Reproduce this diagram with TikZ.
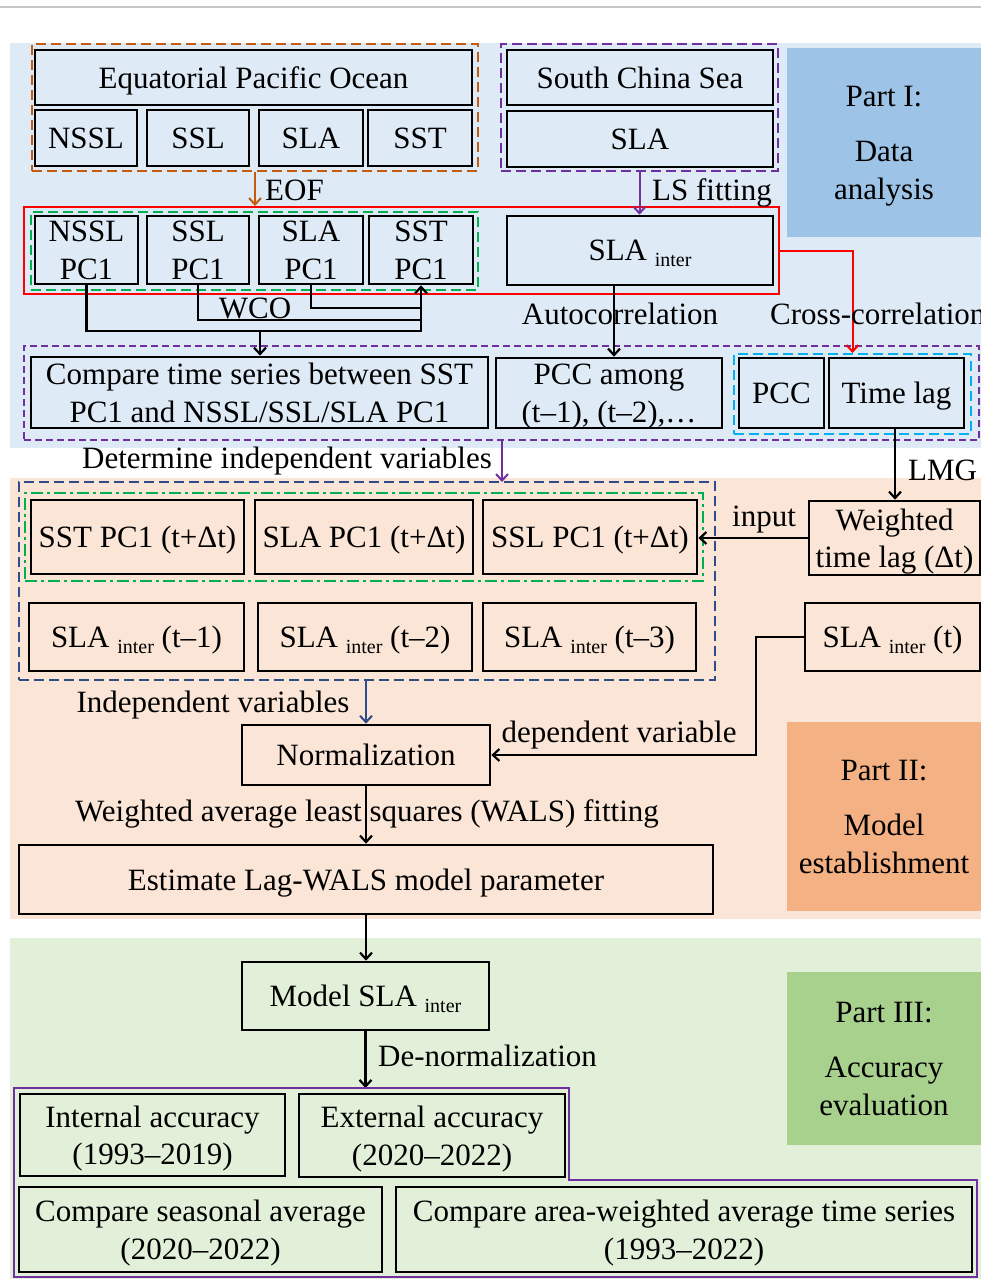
\documentclass[tikz,border=0pt]{standalone}
\usepackage{fontspec}
\setmainfont{Liberation Serif}
\usetikzlibrary{arrows.meta}
\definecolor{bgA}{HTML}{DEEBF7}
\definecolor{lbA}{HTML}{9DC3E6}
\definecolor{bgB}{HTML}{FBE5D6}
\definecolor{lbB}{HTML}{F4B183}
\definecolor{bgC}{HTML}{E2F0D9}
\definecolor{lbC}{HTML}{A9D18E}
\definecolor{orangeD}{HTML}{C55A11}
\definecolor{greenD}{HTML}{00B050}
\definecolor{purpleD}{HTML}{7030A0}
\definecolor{cyanD}{HTML}{00B0F0}
\definecolor{navyD}{HTML}{2F4C8A}
\definecolor{redD}{HTML}{FF0000}
\newcommand{\subtxt}[1]{\raisebox{-6pt}{\fontsize{20}{20}\selectfont #1}}
\begin{document}
\begin{tikzpicture}[x=1pt,y=-1pt,
  font=\fontsize{31}{37.5}\selectfont,
  box/.style={draw=black, line width=2.6pt, inner sep=0pt, align=center, text depth=0pt},
  frame/.style={line width=2pt, inner sep=0pt},
  dsh/.style={dash pattern=on 10pt off 5pt},
  dshs/.style={dash pattern=on 7pt off 4pt},
  dashdot/.style={dash pattern=on 12pt off 4pt on 3pt off 4pt},
  lbl/.style={inner sep=0pt},
  part/.style={inner sep=0pt, align=center, text depth=0pt},
  conn/.style={draw=black, line width=2.2pt},
  arr/.style={-{Straight Barb[length=6.5pt,width=12pt]}}]
\useasboundingbox (0,0) rectangle (981,1279);
% backgrounds
\draw[gray!45, line width=1.5pt] (0,7) -- (981,7);
\fill[bgA] (10,43) rectangle (981,448);
\fill[bgB] (10,478) rectangle (981,919);
\fill[bgC] (10,938) rectangle (981,1279);
% part labels
\node[part, fill=lbA, minimum width=194pt, minimum height=189pt] (p1) at (884,142.5) {Part I:\\[18pt]Data\\analysis};
\node[part, fill=lbB, minimum width=194pt, minimum height=189pt] (p2) at (884,816.5) {Part II:\\[18pt]Model\\establishment};
\node[part, fill=lbC, minimum width=194pt, minimum height=173pt] (p3) at (884,1058.5) {Part III:\\[18pt]Accuracy\\evaluation};
% ---- Part I
\node[frame, draw=orangeD, dsh, minimum width=446pt, minimum height=127pt] (epoF) at (255,107.5) {};
\node[frame, draw=purpleD, dsh, minimum width=277pt, minimum height=127pt] (scsF) at (639.5,107.5) {};
\node[box, minimum width=437pt, minimum height=55pt] (epo) at (253.5,77.5) {Equatorial Pacific Ocean};
\node[box, minimum width=102pt, minimum height=56pt] (nssl) at (86,138) {NSSL};
\node[box, minimum width=102pt, minimum height=56pt] (ssl) at (198,138) {SSL};
\node[box, minimum width=104pt, minimum height=56pt] (slaA) at (311,138) {SLA};
\node[box, minimum width=104pt, minimum height=56pt] (sst) at (420,138) {SST};
\node[box, minimum width=266pt, minimum height=55pt] (scs) at (640,77.5) {South China Sea};
\node[box, minimum width=266pt, minimum height=56pt] (slaB) at (640,139) {SLA};

\node[frame, draw=redD, minimum width=755pt, minimum height=87pt] (redF) at (401.5,250.5) {};
\node[frame, draw=greenD, dsh, minimum width=447pt, minimum height=78pt] (pcF) at (254.5,251) {};
\node[box, minimum width=103pt, minimum height=68pt] (nsslpc) at (86.5,250) {NSSL\\PC1};
\node[box, minimum width=102pt, minimum height=68pt] (sslpc) at (198,250) {SSL\\PC1};
\node[box, minimum width=104pt, minimum height=68pt] (slapc) at (311,250) {SLA\\PC1};
\node[box, minimum width=104pt, minimum height=68pt] (sstpc) at (421,250) {SST\\PC1};
\node[box, minimum width=266pt, minimum height=69pt] (slainter) at (640,250.5) {SLA \subtxt{inter}};

\node[frame, draw=purpleD, dshs, minimum width=955pt, minimum height=94pt] (row3F) at (501.5,393) {};
\node[frame, draw=cyanD, dsh, minimum width=237pt, minimum height=80pt] (cyanF) at (852.5,394) {};
\node[box, minimum width=457pt, minimum height=71pt] (cmp) at (259.5,392.5) {Compare time series between SST\\PC1 and NSSL/SSL/SLA PC1};
\node[box, minimum width=226pt, minimum height=70pt] (pccamong) at (609,393) {PCC among\\(t–1), (t–2),…};
\node[box, minimum width=85pt, minimum height=70pt] (pcc) at (781.5,393) {PCC};
\node[box, minimum width=135pt, minimum height=70pt] (timelag) at (896.5,393) {Time lag};

% Part I connectors
\draw[orangeD, line width=2pt, arr] (epoF.south) -- (epoF.south |- redF.north);
\node[lbl, anchor=base west] (eofL) at (265,200) {EOF};
\draw[purpleD, line width=2pt, arr] (scsF.south) -- (scsF.south |- slainter.north);
\node[lbl, anchor=base west] (lsL) at (652,200) {LS fitting};
\coordinate (w1) at (421,331);
\coordinate (w2) at (421,320);
\coordinate (w3) at (421,308);
\coordinate (wcoM) at (260,331);
\draw[conn] (sslpc.south) |- (w2);
\draw[conn] (slapc.south) |- (w3);
\draw[conn, arr] (nsslpc.south) |- (w1) -- (sstpc.south);
\draw[conn, arr] (wcoM) -- (wcoM |- cmp.north);
\node[lbl, anchor=base] (wcoL) at (255,318) {WCO};
\coordinate (acTop) at (614,285);
\draw[conn, arr] (acTop) -- (acTop |- pccamong.north);
\node[lbl, anchor=base] (acL) at (620,324) {Autocorrelation};
\draw[redD, line width=2pt, arr] (redF.east |- slainter.center) -| (cyanF.north);
\node[lbl, anchor=base west] (ccL) at (770,324) {Cross-correlation};

% ---- Part II
\coordinate (dA) at (502,440);
\coordinate (dB) at (502,482);
\draw[purpleD, line width=2pt, arr] (dA) -- (dB);
\node[lbl, anchor=base] (detL) at (287,468) {Determine independent variables};

\node[frame, draw=navyD, dsh, minimum width=696pt, minimum height=198pt] (navyF) at (367,581) {};
\node[frame, draw=greenD, dashdot, minimum width=678pt, minimum height=88pt] (ddF) at (364,537) {};
\node[box, minimum width=213pt, minimum height=74pt] (sstpct) at (137.5,537) {SST PC1 (t+Δt)};
\node[box, minimum width=218pt, minimum height=74pt] (slapct) at (364,537) {SLA PC1 (t+Δt)};
\node[box, minimum width=214pt, minimum height=74pt] (sslpct) at (590,537) {SSL PC1 (t+Δt)};
\node[box, minimum width=215pt, minimum height=68pt] (slat1) at (136.5,637) {SLA \subtxt{inter} (t–1)};
\node[box, minimum width=214pt, minimum height=68pt] (slat2) at (365,637) {SLA \subtxt{inter} (t–2)};
\node[box, minimum width=213pt, minimum height=68pt] (slat3) at (589.5,637) {SLA \subtxt{inter} (t–3)};
\node[box, minimum width=171pt, minimum height=74pt] (wtl) at (894.5,538) {Weighted\\time lag (Δt)};
\node[box, minimum width=175pt, minimum height=68pt] (slat) at (892.5,637) {SLA \subtxt{inter} (t)};
\node[box, minimum width=248pt, minimum height=60pt] (norm) at (366,755) {Normalization};
\node[box, minimum width=694pt, minimum height=69pt] (est) at (366,879.5) {Estimate Lag-WALS model parameter};

\draw[conn, arr] ([xshift=-1.5pt]timelag.south) -- ([xshift=-1.5pt]timelag.south |- wtl.north);
\node[lbl, anchor=base west] (lmgL) at (908,480) {LMG};
\draw[conn, arr] (wtl.west) -- (wtl.west -| sslpct.east);
\node[lbl, anchor=base] (inL) at (764,526) {input};
\draw[conn, arr] (slat.west) -- ++(-48,0) |- (norm.east);
\node[lbl, anchor=base] (depL) at (619,742) {dependent variable};
\draw[navyD, line width=2pt, arr] (norm.north |- navyF.south) -- (norm.north);
\node[lbl, anchor=base] (indL) at (213,712) {Independent variables};
\draw[conn, arr] (norm.south) -- (est.north);
\node[lbl, anchor=base] (walsL) at (367,821) {Weighted average least squares (WALS) fitting};

% ---- Part III
\node[box, minimum width=247pt, minimum height=68pt] (model) at (365.5,996) {Model SLA \subtxt{inter}};
\draw[conn, arr] (est.south) -- (est.south |- model.north);
\coordinate (pTop) at (366,1088);
\draw[conn, arr] (model.south) -- (model.south |- pTop);
\node[lbl, anchor=base west] (denL) at (378,1066) {De-normalization};
\draw[purpleD, line width=2pt] (14,1088) -- (569,1088) -- (569,1180) -- (977,1180) -- (977,1277) -- (14,1277) -- cycle;
\node[box, minimum width=265pt, minimum height=82pt] (intacc) at (152.5,1135) {Internal accuracy\\(1993–2019)};
\node[box, minimum width=266pt, minimum height=83pt] (extacc) at (432,1135.5) {External accuracy\\(2020–2022)};
\node[box, minimum width=363pt, minimum height=85pt] (seas) at (200.5,1229.5) {Compare seasonal average\\(2020–2022)};
\node[box, minimum width=576pt, minimum height=85pt] (area) at (684,1229.5) {Compare area-weighted average time series\\(1993–2022)};
\end{tikzpicture}
\end{document}
